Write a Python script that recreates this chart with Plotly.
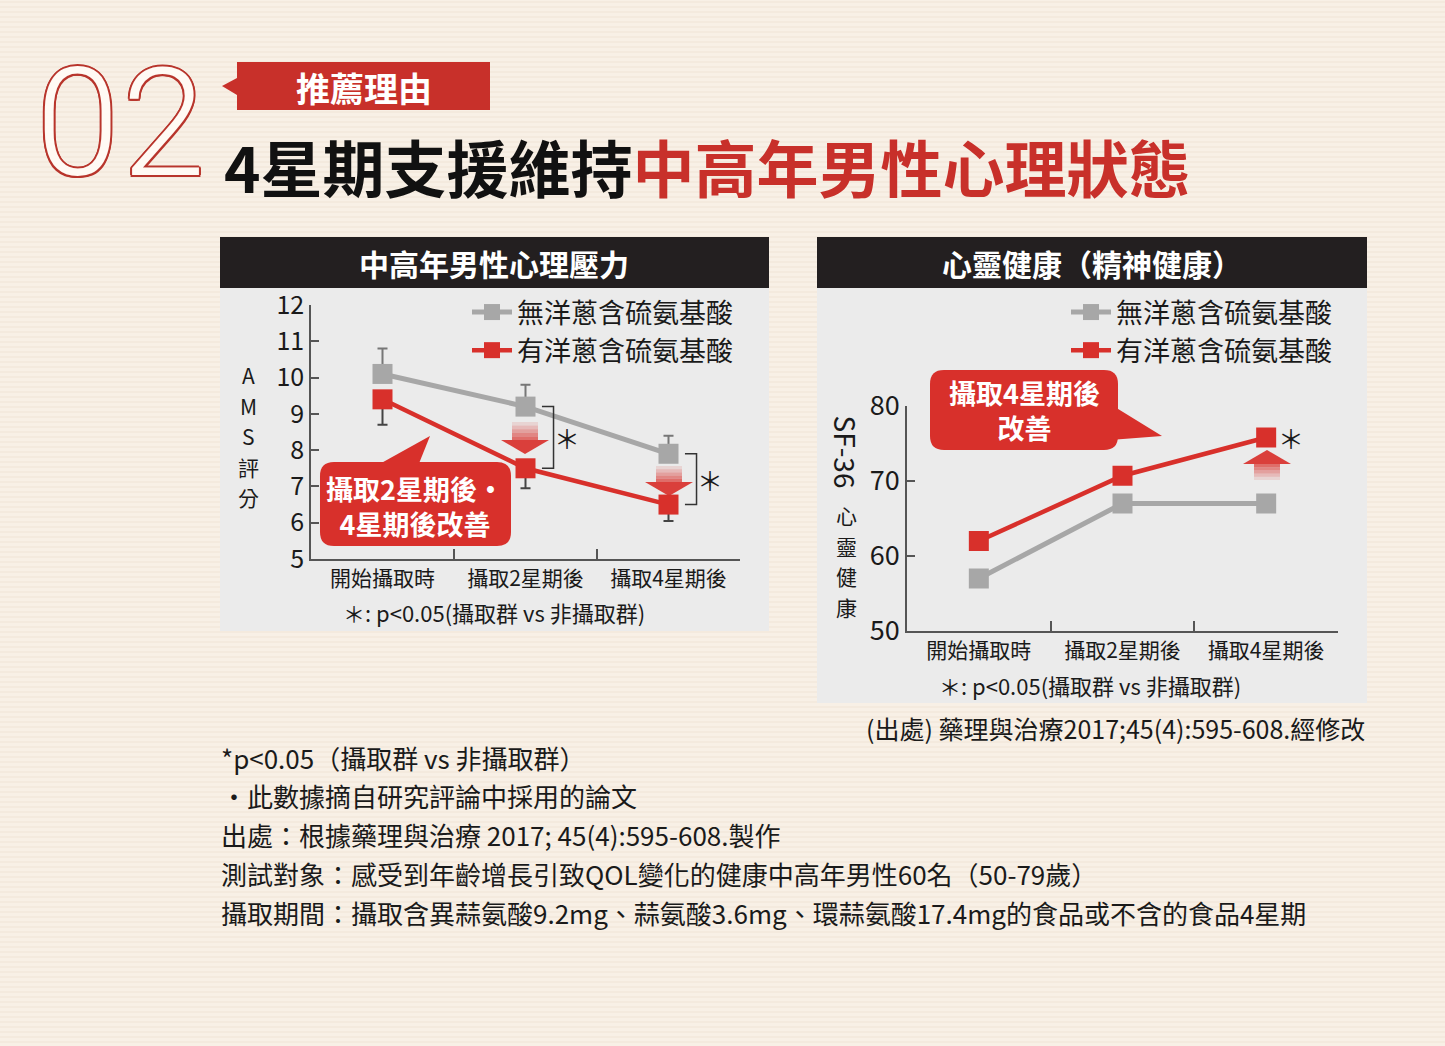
import plotly.graph_objects as go

W, H = 1445, 1046

# ---------------- data ----------------
categories = ["開始攝取時", "攝取2星期後", "攝取4星期後"]
series_names = ["無洋蔥含硫氨基酸", "有洋蔥含硫氨基酸"]

ams_control = [10.1, 9.2, 7.9]
ams_control_err_up = [0.7, 0.6, 0.5]
ams_onion = [9.4, 7.5, 6.5]
ams_onion_err_down = [0.7, 0.55, 0.45]

sf36_control = [57.0, 67.0, 67.0]
sf36_onion = [62.0, 70.7, 75.8]

ams_ticks = [5, 6, 7, 8, 9, 10, 11, 12]
sf36_ticks = [50, 60, 70, 80]

# ---------------- styles ----------------
FONT = "Noto Sans CJK TC, Noto Sans, sans-serif"
GRAY = "#a7a7a7"
RED = "#d8302b"
DARK = "#231f20"
TXT = "#1a1a1a"
AX = "#555555"


def px(x):
    return x / W


def py(y):
    return 1 - y / H


def ppath(points, close=True):
    s = "M " + " L ".join(f"{px(x):.5f},{py(y):.5f}" for x, y in points)
    return s + (" Z" if close else "")


def rounded_rect(x0, y0, x1, y1, r):
    pts = [
        f"M {px(x0 + r):.5f},{py(y0):.5f}",
        f"L {px(x1 - r):.5f},{py(y0):.5f}",
        f"Q {px(x1):.5f},{py(y0):.5f} {px(x1):.5f},{py(y0 + r):.5f}",
        f"L {px(x1):.5f},{py(y1 - r):.5f}",
        f"Q {px(x1):.5f},{py(y1):.5f} {px(x1 - r):.5f},{py(y1):.5f}",
        f"L {px(x0 + r):.5f},{py(y1):.5f}",
        f"Q {px(x0):.5f},{py(y1):.5f} {px(x0):.5f},{py(y1 - r):.5f}",
        f"L {px(x0):.5f},{py(y0 + r):.5f}",
        f"Q {px(x0):.5f},{py(y0):.5f} {px(x0 + r):.5f},{py(y0):.5f}",
        "Z",
    ]
    return " ".join(pts)


fig = go.Figure()

# ---------- left chart ----------
fig.add_trace(go.Scatter(
    x=categories, y=ams_control, name=series_names[0], mode="lines+markers",
    line=dict(color=GRAY, width=5), marker=dict(symbol="square", size=20, color=GRAY),
    error_y=dict(type="data", symmetric=False, array=ams_control_err_up,
                 arrayminus=[0] * 3, color="#777777", thickness=2, width=5),
    xaxis="x", yaxis="y", legend="legend", cliponaxis=False))
fig.add_trace(go.Scatter(
    x=categories, y=ams_onion, name=series_names[1], mode="lines+markers",
    line=dict(color=RED, width=4.5), marker=dict(symbol="square", size=20, color=RED),
    error_y=dict(type="data", symmetric=False, array=[0] * 3,
                 arrayminus=ams_onion_err_down, color="#444444", thickness=2, width=5),
    xaxis="x", yaxis="y", legend="legend", cliponaxis=False))

# ---------- right chart ----------
fig.add_trace(go.Scatter(
    x=categories, y=sf36_control, name=series_names[0], mode="lines+markers",
    line=dict(color=GRAY, width=5), marker=dict(symbol="square", size=20, color=GRAY),
    xaxis="x2", yaxis="y2", legend="legend2", cliponaxis=False))
fig.add_trace(go.Scatter(
    x=categories, y=sf36_onion, name=series_names[1], mode="lines+markers",
    line=dict(color=RED, width=4.5), marker=dict(symbol="square", size=20, color=RED),
    xaxis="x2", yaxis="y2", legend="legend2", cliponaxis=False))

shapes = []
# background stripes
stripe = " ".join(f"M 0,{py(y):.5f} L 1,{py(y):.5f}" for y in range(2, H, 5))
shapes.append(dict(type="path", xref="paper", yref="paper", path=stripe,
                   line=dict(color="rgba(225,205,185,0.35)", width=1), layer="below"))

# panels
for (x0, x1, y1) in [(220, 769, 631), (817, 1367, 703)]:
    shapes.append(dict(type="rect", xref="paper", yref="paper", x0=px(x0), x1=px(x1),
                       y0=py(y1), y1=py(288), fillcolor="#ebebeb", line=dict(width=0),
                       layer="below"))
    shapes.append(dict(type="rect", xref="paper", yref="paper", x0=px(x0), x1=px(x1),
                       y0=py(288), y1=py(237), fillcolor=DARK, line=dict(width=0),
                       layer="below"))

# top red label with pointer
shapes.append(dict(type="path", xref="paper", yref="paper",
                   path=ppath([(237, 62), (490, 62), (490, 110), (237, 110), (237, 95),
                               (222, 86), (237, 78)]),
                   fillcolor="#c8302a", line=dict(width=0)))

# callout left
shapes.append(dict(type="path", xref="paper", yref="paper",
                   path=rounded_rect(320, 462, 511, 546, 14), fillcolor=RED, line=dict(width=0)))
shapes.append(dict(type="path", xref="paper", yref="paper",
                   path=ppath([(376, 466), (430, 436), (418, 466)]), fillcolor=RED,
                   line=dict(width=0)))
# callout right
shapes.append(dict(type="path", xref="paper", yref="paper",
                   path=rounded_rect(930, 370, 1118, 450, 14), fillcolor=RED, line=dict(width=0)))
shapes.append(dict(type="path", xref="paper", yref="paper",
                   path=ppath([(1110, 404), (1162, 436), (1110, 440)]), fillcolor=RED,
                   line=dict(width=0)))

# gradient arrows
for (cx, yt, ytip) in [(525, 422, 454), (669, 466, 496), (1267, 480, 450)]:
    d = 1 if ytip > yt else -1
    headlen, sh, hh = 14, 13, 24
    yb = ytip - d * headlen
    n = 5
    for k in range(n):
        ya = yt + (yb - yt) * k / n
        yc = yt + (yb - yt) * (k + 1) / n
        shapes.append(dict(type="path", xref="paper", yref="paper",
                           path=ppath([(cx - sh, ya), (cx + sh, ya), (cx + sh, yc), (cx - sh, yc)]),
                           fillcolor=f"rgba(216,48,43,{0.12 + 0.14 * k:.2f})", line=dict(width=0)))
    shapes.append(dict(type="path", xref="paper", yref="paper",
                       path=ppath([(cx - hh, yb), (cx + hh, yb), (cx, ytip)]),
                       fillcolor="rgba(216,48,43,0.92)", line=dict(width=0)))

# significance brackets (data coords)
for i in (1, 2):
    xa, xb = i + 0.115, i + 0.196
    shapes.append(dict(type="path", xref="x", yref="y",
                       path=f"M {xa},{ams_control[i]} L {xb},{ams_control[i]} "
                            f"L {xb},{ams_onion[i]} L {xa},{ams_onion[i]}",
                       line=dict(color="#333", width=1.5)))

annotations = []


def ann(text, x, y, size, color=TXT, xanchor="center", yanchor="middle", bold=False, **kw):
    annotations.append(dict(text=text, x=px(x), y=py(y), xref="paper", yref="paper",
                            showarrow=False, xanchor=xanchor, yanchor=yanchor,
                            font=dict(family=FONT, size=size, color=color,
                                      weight="bold" if bold else "normal"), **kw))


# big "02" (outlined)
o = "#b8352c"
shadow = ", ".join(f"{dx}px {dy}px 0 {o}" for dx, dy in
                   [(2, 0), (-2, 0), (0, 2), (0, -2), (1.5, 1.5), (-1.5, -1.5), (1.5, -1.5), (-1.5, 1.5)])
for ch, cx in [("0", 77), ("2", 163)]:
    annotations.append(dict(text=ch, x=px(cx), y=py(124), xref="paper", yref="paper",
                            showarrow=False, xanchor="center", yanchor="middle",
                            font=dict(family="Roboto, sans-serif", size=150, color="#fffaf4",
                                      shadow=shadow, weight=300)))
ann("推薦理由", 364, 87, 34, color="white", bold=True)
ann("4星期支援維持<span style='color:#c8302a'>中高年男性心理狀態</span>", 222, 166, 62,
    color="#111111", xanchor="left", bold=True)

# panel headers
ann("中高年男性心理壓力", 494, 263, 30, color="white", bold=True)
ann("心靈健康（精神健康）", 1092, 263, 30, color="white", bold=True)

# axis titles (stacked vertical text, one glyph per annotation)
for k, ch in enumerate("AMS評分"):
    ann(ch, 248, 375 + 30.5 * k, 21)
annotations.append(dict(text="SF-36", x=px(846), y=py(413), xref="paper", yref="paper",
                        showarrow=False, xanchor="center", yanchor="top", textangle=90,
                        font=dict(family=FONT, size=28, color=TXT)))
for k, ch in enumerate("心靈健康"):
    ann(ch, 846, 515 + 30.5 * k, 21)

# callout texts
ann("攝取2星期後・<br>4星期後改善", 415, 506, 27, color="white", bold=True)
ann("攝取4星期後<br>改善", 1024, 410, 27, color="white", bold=True)

# stars
for i in (1, 2):
    annotations.append(dict(text="＊", x=i + 0.29, y=(ams_control[i] + ams_onion[i]) / 2,
                            xref="x", yref="y", showarrow=False,
                            font=dict(family=FONT, size=26, color=TXT)))
annotations.append(dict(text="＊", x=2.17, y=sf36_onion[2], xref="x2", yref="y2",
                        showarrow=False, font=dict(family=FONT, size=26, color=TXT)))

# panel footnotes
ann("＊: p<0.05(攝取群 vs 非攝取群)", 494, 612, 22)
ann("＊: p<0.05(攝取群 vs 非攝取群)", 1090, 685, 22)

# source
ann("(出處) 藥理與治療2017;45(4):595-608.經修改", 1367, 728, 25, xanchor="right")

notes = [
    "*p<0.05（攝取群 vs 非攝取群）",
    "・此數據摘自研究評論中採用的論文",
    "出處：根據藥理與治療 2017; 45(4):595-608.製作",
    "測試對象：感受到年齡增長引致QOL變化的健康中高年男性60名（50-79歲）",
    "攝取期間：攝取含異蒜氨酸9.2mg、蒜氨酸3.6mg、環蒜氨酸17.4mg的食品或不含的食品4星期",
]
for k, t in enumerate(notes):
    ann(t, 219, 757 + 38.8 * k, 26, xanchor="left")

axis_common = dict(showgrid=False, zeroline=False, showline=True, linecolor=AX, linewidth=1.5,
                   ticks="inside", tickcolor=AX, tickwidth=1.5)

fig.update_layout(
    width=W, height=H, margin=dict(l=0, r=0, t=0, b=0, pad=0, autoexpand=False),
    paper_bgcolor="#f8f0e6", plot_bgcolor="rgba(0,0,0,0)",
    font=dict(family=FONT, color=TXT),
    hovermode=False,
    shapes=shapes, annotations=annotations,
    xaxis=dict(domain=[px(311), px(740)], anchor="y", type="category",
               categoryorder="array", categoryarray=categories, range=[-0.5, 2.5],
               tickson="boundaries", ticklen=10, tickfont=dict(size=21, color=TXT),
               **axis_common),
    yaxis=dict(domain=[py(559), py(305)], anchor="x", range=[5, 12], tickvals=ams_ticks,
               ticklen=8, tickfont=dict(size=25, color=TXT), **axis_common),
    xaxis2=dict(domain=[px(907), px(1338)], anchor="y2", type="category",
                categoryorder="array", categoryarray=categories, range=[-0.5, 2.5],
                tickson="boundaries", ticklen=10, tickfont=dict(size=21, color=TXT),
                **axis_common),
    yaxis2=dict(domain=[py(631), py(406)], anchor="x2", range=[50, 80], tickvals=sf36_ticks,
                ticklen=8, tickfont=dict(size=27, color=TXT), **axis_common),
    legend=dict(x=px(467), y=py(288), xanchor="left", yanchor="top",
                bgcolor="rgba(0,0,0,0)", font=dict(size=27, color=TXT),
                itemwidth=40, tracegroupgap=0, traceorder="normal"),
    legend2=dict(x=px(1066), y=py(288), xanchor="left", yanchor="top",
                 bgcolor="rgba(0,0,0,0)", font=dict(size=27, color=TXT),
                 itemwidth=40, tracegroupgap=0, traceorder="normal"),
)

fig.write_html("out.html", config=dict(displayModeBar=False))
